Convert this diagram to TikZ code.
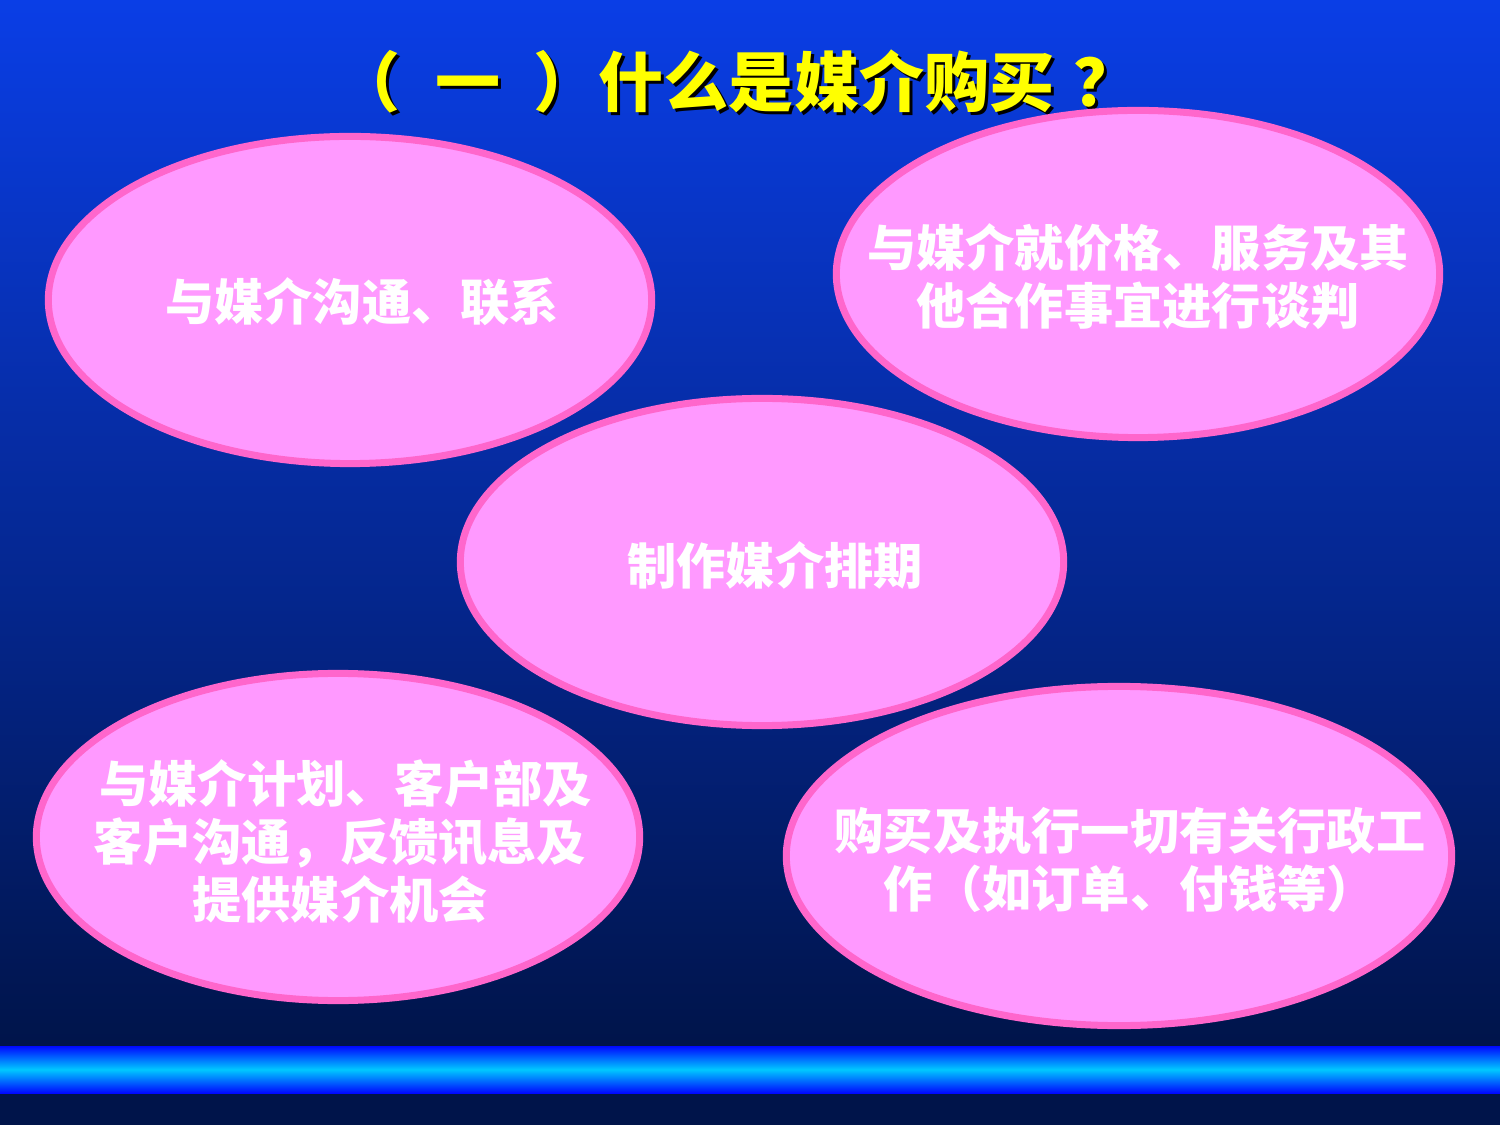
\documentclass[tikz,border=0pt]{standalone}
\usepackage{fontspec}
\setmainfont{Noto Sans CJK SC}
\usepackage{xcolor}
\usepackage{tikz}
\usetikzlibrary{shapes.geometric}
\usetikzlibrary{shapes}
\definecolor{bgtop}{RGB}{10,62,230}
\definecolor{bgbottom}{RGB}{0,20,74}
\definecolor{barblue}{RGB}{0,8,255}
\definecolor{barcyan}{RGB}{0,200,255}
\definecolor{ovalfill}{RGB}{255,153,255}
\definecolor{ovalrim}{RGB}{255,102,204}
\definecolor{titleyellow}{RGB}{255,255,0}
\newcommand{\ovalfont}{\fontsize{14}{16.5}\selectfont\bfseries}
\newcommand{\titlefont}{\fontsize{18.5}{22}\selectfont\bfseries}
\newcommand{\titlestr}{（\hspace{0.35cm}一\hspace{0.33cm}）什么是媒介购买\hspace{0.19cm}？}

\begin{document}
\begin{tikzpicture}[x=0.01cm, y=-0.01cm,
        oval/.style={ellipse, draw=ovalrim, fill=ovalfill, line width=0.07cm, inner sep=0pt,
            minimum width=6.03cm, minimum height=3.27cm},
        ovaltext/.style={text=white, font=\ovalfont, align=center, inner sep=0pt},
        titletext/.style={font=\titlefont, inner sep=0pt, anchor=west}]
            \useasboundingbox (0, 0) rectangle (1500, 1125);
            \shade[top color = bgtop, bottom color = bgbottom] (0, 0) rectangle (1500, 1046);
            \fill[bgbottom] (0, 1046) rectangle (1500, 1125);
            \shade[top color = barblue, bottom color = barblue, middle color = barcyan]
                (0, 1046) rectangle (1500, 1093);

            \node[titletext, text = black] (titleshadow) at (338, 84) {\titlestr};
            \node[titletext, text = titleyellow] (title) at (335, 81) {\titlestr};

            \node[oval] (goutong) at (350, 300) {};
            \node[oval] (tanpan) at (1138, 274) {};
            \node[oval] (paiqi) at (762, 562) {};
            \node[oval] (jihua) at (338, 837) {};
            \node[oval, minimum width = 6.65cm, minimum height = 3.39cm] (zhixing) at (1119, 856) {};

            \node[ovaltext] (goutongtext) at (362, 302) {与媒介沟通、联系};
            \node[ovaltext] (tanpantext) at (1138, 277) {与媒介就价格、服务及其\\他合作事宜进行谈判};
            \node[ovaltext] (paiqitext) at (775, 565) {制作媒介排期};
            \node[ovaltext] (jihuatext) at (340, 841) {\ 与媒介计划、客户部及\\客户沟通，反馈讯息及\\提供媒介机会};
            \node[ovaltext] (zhixingtext) at (1130, 860) {购买及执行一切有关行政工\\作（如订单、付钱等）};
\end{tikzpicture}
\end{document}
